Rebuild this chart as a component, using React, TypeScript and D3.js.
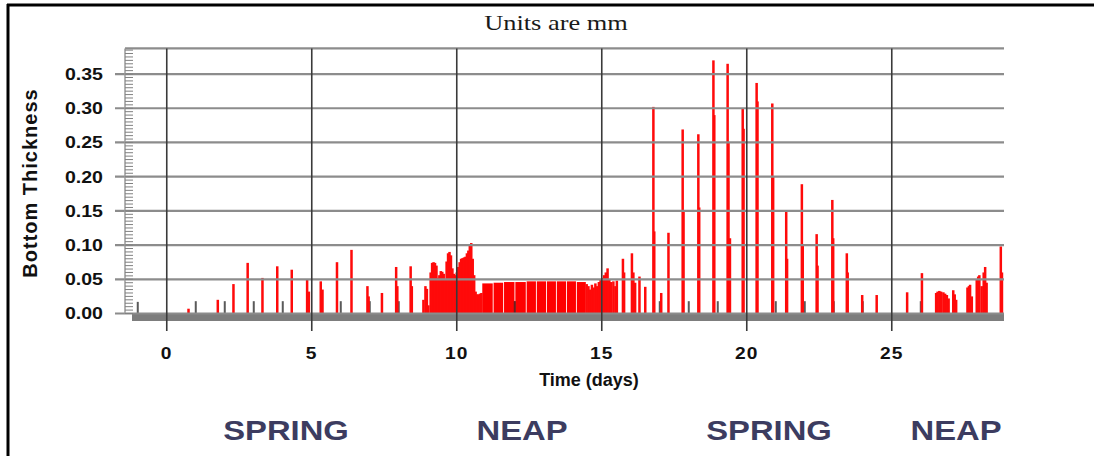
import * as d3 from "d3";

// tick labels
const xTicks = [0, 5, 10, 15, 20, 25];
const yTicks = [0, 0.05, 0.1, 0.15, 0.2, 0.25, 0.3, 0.35];
const phaseLabels = ["SPRING", "NEAP", "SPRING", "NEAP"];
const phaseCenters = [286, 522, 769, 956];

// red deposition spikes: [day, thickness mm]
const redSpikes: [number, number][] = [
  [0.75, 0.007], [1.76, 0.02], [2.3, 0.043], [2.79, 0.074], [3.3, 0.052], [3.81, 0.069],
  [4.31, 0.064], [4.84, 0.05], [4.9, 0.032], [5.31, 0.047], [5.37, 0.035], [5.87, 0.075],
  [6.37, 0.093], [6.92, 0.04], [6.96, 0.025], [7.42, 0.03], [7.91, 0.068], [7.95, 0.04],
  [8.41, 0.069], [8.45, 0.04],
  [8.85, 0.02], [8.92, 0.04], [8.97, 0.036], [9.02, 0.012], [9.1, 0.06], [9.15, 0.074],
  [9.2, 0.075], [9.25, 0.074], [9.3, 0.07], [9.35, 0.052], [9.4, 0.056], [9.45, 0.062],
  [9.5, 0.061], [9.55, 0.058], [9.6, 0.05], [9.65, 0.076], [9.7, 0.088], [9.75, 0.09],
  [9.8, 0.085], [9.85, 0.066], [9.9, 0.058], [9.95, 0.056], [10.0, 0.06], [10.05, 0.068],
  [10.1, 0.075], [10.15, 0.08], [10.2, 0.081], [10.25, 0.082], [10.3, 0.083], [10.35, 0.088],
  [10.4, 0.092], [10.45, 0.1], [10.5, 0.103], [10.55, 0.08], [10.6, 0.056], [10.65, 0.032],
  [10.7, 0.028], [10.75, 0.028], [10.8, 0.029], [10.85, 0.03],
  [14.48, 0.043], [14.54, 0.04], [14.6, 0.035], [14.66, 0.042], [14.72, 0.038], [14.78, 0.044],
  [14.84, 0.04], [14.9, 0.046], [14.96, 0.05], [15.02, 0.052], [15.08, 0.056], [15.14, 0.06],
  [15.2, 0.066], [15.26, 0.05], [15.32, 0.046], [15.4, 0.047], [15.47, 0.04], [15.52, 0.048],
  [15.73, 0.08], [15.77, 0.06], [16.04, 0.088], [16.09, 0.06], [16.15, 0.045], [16.3, 0.054],
  [16.5, 0.039],
  [16.78, 0.302], [16.81, 0.12], [17.05, 0.03], [17.3, 0.118], [17.79, 0.269], [17.82, 0.15],
  [18.33, 0.262], [18.36, 0.155], [18.85, 0.37], [18.88, 0.29], [19.34, 0.365], [19.37, 0.25],
  [19.42, 0.11], [19.86, 0.299], [19.89, 0.27], [20.34, 0.337], [20.37, 0.31], [20.88, 0.307],
  [20.91, 0.2], [21.36, 0.151], [21.39, 0.08], [21.9, 0.189], [21.93, 0.1], [22.41, 0.116],
  [22.44, 0.07], [22.95, 0.166], [22.98, 0.11], [23.45, 0.088], [23.48, 0.06], [23.98, 0.027],
  [24.48, 0.027],
  [25.53, 0.031], [26.04, 0.059], [26.53, 0.03], [26.58, 0.032], [26.64, 0.033], [26.7, 0.032],
  [26.78, 0.031], [26.84, 0.029], [26.9, 0.027], [26.96, 0.022], [27.12, 0.034], [27.17, 0.028],
  [27.22, 0.02], [27.61, 0.038], [27.66, 0.04], [27.7, 0.042], [27.76, 0.025], [27.93, 0.05],
  [27.98, 0.054], [28.02, 0.056], [28.1, 0.04], [28.17, 0.06], [28.22, 0.068], [28.27, 0.045],
  [28.76, 0.098], [28.8, 0.06],
];

// neap plateau blocks
const plateauStart = [10.88, 11.27, 11.63, 12.02, 12.41, 12.76, 13.11, 13.45, 13.8, 14.14];
const plateauEnd = [11.24, 11.6, 11.99, 12.38, 12.73, 13.08, 13.42, 13.77, 14.11, 14.45];
const plateauValue = [0.044, 0.045, 0.046, 0.046, 0.047, 0.047, 0.047, 0.047, 0.047, 0.046];

// small dark spikes at whole days
const grayDays = [-1, 1, 2, 3, 4, 6, 7, 8, 12, 17, 18, 19, 21, 22, 23, 24, 26];
const grayValues = [0.017, 0.018, 0.018, 0.018, 0.018, 0.018, 0.018, 0.018, 0.018, 0.018, 0.018, 0.018, 0.018, 0.018, 0.018, 0.018, 0.018];

const W = 1094;
const H = 456;
const bold = "Arial, 'Liberation Sans', Helvetica, sans-serif";

// horizontally stretched text, like the source image
function stretch(cx: number, k: number) {
  return `translate(${cx},0) scale(${k},1) translate(${-cx},0)`;
}

export default function App() {
  const x = d3.scaleLinear().domain([-1.44, 28.87]).range([125, 1004]);
  const y = d3.scaleLinear().domain([0, 0.3875]).range([313.5, 48.4]);
  const y0 = y(0);
  const minor = d3.range(0, 0.386, 0.005);
  const fmt = d3.format(".2f");
  const sw = 2.5;

  return (
    <svg
      width={W}
      height={H}
      style={{ position: "absolute", left: 0, top: 0, background: "#fff" }}
    >
      {/* frame */}
      <line x1={7} x2={W} y1={5} y2={5} stroke="#000" strokeWidth={3} />
      <line x1={8} x2={8} y1={4} y2={H} stroke="#000" strokeWidth={3} />

      <text
        x={556}
        y={30}
        textAnchor="middle"
        transform={stretch(556, 1.2)}
        style={{ fontFamily: "'Liberation Serif', 'DejaVu Serif', serif", fontSize: 22, fill: "#1a1a1a" }}
      >
        Units are mm
      </text>

      {/* data */}
      {grayDays.map((d, i) => (
        <rect key={"g" + i} x={x(d) - 1} y={y(grayValues[i])} width={2} height={y0 - y(grayValues[i])} fill="#5a5a5a" />
      ))}
      {plateauStart.map((s, i) => (
        <rect
          key={"p" + i}
          x={x(s)}
          y={y(plateauValue[i])}
          width={x(plateauEnd[i]) - x(s)}
          height={y0 - y(plateauValue[i])}
          fill="#ff0000"
        />
      ))}
      {redSpikes.map(([d, v], i) => (
        <rect key={"r" + i} x={x(d) - sw / 2} y={y(v)} width={sw} height={y0 - y(v)} fill="#ff0a0a" />
      ))}
      <rect x={x(12) - 1} y={y(0.018)} width={2} height={y0 - y(0.018)} fill="#6a2020" />

      {/* base band */}
      <rect x={132} y={y0} width={1004 - 132} height={7.5} fill="#7d7d7d" />

      {/* horizontal grid */}
      {yTicks.map((t) => (
        <line key={"h" + t} x1={115} x2={1004} y1={y(t)} y2={y(t)} stroke="#8c8c8c" strokeWidth={2.2} />
      ))}
      <line x1={125} x2={1004} y1={y(0.3875)} y2={y(0.3875)} stroke="#8c8c8c" strokeWidth={2.4} />

      {/* y axis + minor ticks */}
      <line x1={125} x2={125} y1={y(0.3875)} y2={y0} stroke="#9a9a9a" strokeWidth={1.5} />
      {minor.map((m, i) => (
        <line key={"m" + i} x1={125} x2={133} y1={y(m)} y2={y(m)} stroke="#808080" strokeWidth={1} />
      ))}

      {/* vertical grid */}
      {xTicks.map((t) => (
        <line key={"v" + t} x1={x(t)} x2={x(t)} y1={y(0.3875)} y2={331} stroke="#3a3a3a" strokeWidth={1.6} />
      ))}

      {/* tick labels */}
      {yTicks.map((t) => (
        <text
          key={"yl" + t}
          x={103}
          y={y(t) + 6}
          textAnchor="end"
          transform={stretch(103, 1.15)}
          style={{ fontFamily: bold, fontWeight: 700, fontSize: 17, fill: "#111" }}
        >
          {fmt(t)}
        </text>
      ))}
      {xTicks.map((t) => (
        <text
          key={"xl" + t}
          x={x(t)}
          y={359}
          textAnchor="middle"
          transform={stretch(x(t), 1.2)}
          style={{ fontFamily: bold, fontWeight: 700, fontSize: 16, fill: "#111", letterSpacing: 1 }}
        >
          {t}
        </text>
      ))}

      <text
        x={589}
        y={386}
        textAnchor="middle"
        style={{ fontFamily: bold, fontWeight: 700, fontSize: 18, fill: "#111" }}
      >
        Time (days)
      </text>
      <text
        transform="translate(37,183) rotate(-90)"
        textAnchor="middle"
        style={{ fontFamily: bold, fontWeight: 700, fontSize: 20, fill: "#111", letterSpacing: 1 }}
      >
        Bottom Thickness
      </text>

      {/* tidal phase labels */}
      {phaseLabels.map((p, i) => (
        <text
          key={"ph" + i}
          x={phaseCenters[i]}
          y={440}
          textAnchor="middle"
          transform={stretch(phaseCenters[i], 1.17)}
          style={{ fontFamily: bold, fontWeight: 700, fontSize: 28, fill: "#3c3c60" }}
        >
          {p}
        </text>
      ))}
    </svg>
  );
}
